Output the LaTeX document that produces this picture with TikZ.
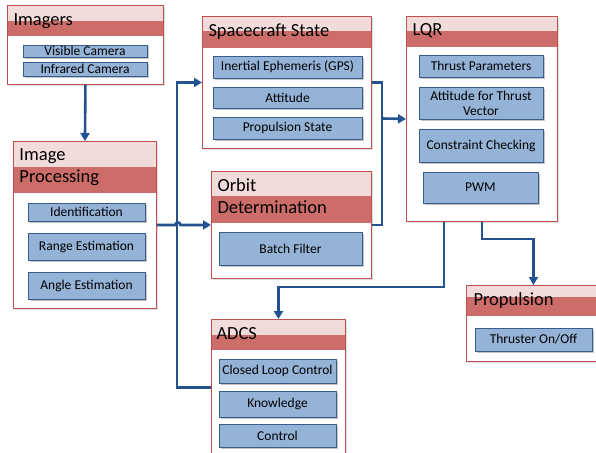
\documentclass[tikz,border=0pt]{standalone}
\usepackage{fontspec}
\setmainfont{Carlito}
\usetikzlibrary{arrows.meta,shadows}
\definecolor{headlight}{HTML}{F2DCDB}
\definecolor{headdark}{HTML}{CD6D69}
\definecolor{modborder}{HTML}{C0504D}
\definecolor{itemfill}{HTML}{95B3D7}
\definecolor{itemborder}{HTML}{385D8A}
\definecolor{flowblue}{HTML}{24528F}

\begin{document}
\begin{tikzpicture}[
                x=1pt,y=-1pt,
                line width=1pt,
                module/.style 2 args={draw=modborder,line width=0.9pt,fill=white,inner sep=0pt,anchor=north west,
                    drop shadow={shadow xshift=1.2pt,shadow yshift=-1.2pt,opacity=0.25},
                    path picture={
                        \fill[headlight] (path picture bounding box.north west) rectangle ([yshift=-#1pt]path picture bounding box.north east);
                        \fill[headdark] ([yshift=-#1pt]path picture bounding box.north west) rectangle ([yshift=-#2pt]path picture bounding box.north east);
                    }},
                title/.style={font=\fontsize{18.5}{22}\selectfont,anchor=west,inner sep=0pt,align=left,text=black},
                item/.style={draw=itemborder,fill=itemfill,line width=0.9pt,inner sep=0.5pt,align=center,
                    font=\fontsize{13.5}{15}\selectfont,text=black,
                    drop shadow={shadow xshift=1.5pt,shadow yshift=-1.5pt,opacity=0.45}},
                flow/.style={draw=flowblue,line width=2.6pt,-{Triangle[length=8pt,width=9pt]}},
                bus/.style={draw=flowblue,line width=2.6pt}] %

                    \useasboundingbox (0,0) rectangle (596,452);

                    % Imagers
                    \node[module={16}{31},minimum width=156pt,minimum height=79pt] (Imagers) at (7,5) {};
                    \node[title] (ImagersTitle) at (13,21) {Imagers};
                    \node[item,minimum width=124pt,minimum height=12pt] (ItemVisible) at (85,51) {Visible Camera};
                    \node[item,minimum width=124pt,minimum height=14pt] (ItemInfrared) at (85,69) {Infrared Camera};

                    % Spacecraft State
                    \node[module={15}{32},minimum width=169pt,minimum height=132pt] (SpacecraftState) at (202,16) {};
                    \node[title] (SpacecraftTitle) at (208,32) {Spacecraft State};
                    \node[item,minimum width=149pt,minimum height=22pt] (ItemGPS) at (287.5,67) {Inertial Ephemeris (GPS)};
                    \node[item,minimum width=149pt,minimum height=21pt] (ItemAttitude) at (287.5,97.5) {Attitude};
                    \node[item,minimum width=149pt,minimum height=22pt] (ItemPropState) at (287.5,128) {Propulsion State};

                    % LQR
                    \node[module={15}{31},minimum width=151pt,minimum height=205pt] (LQR) at (406,16) {};
                    \node[title] (LQRTitle) at (412,31) {LQR};
                    \node[item,minimum width=124pt,minimum height=22pt] (ItemThrust) at (481,66) {Thrust Parameters};
                    \node[item,minimum width=124pt,minimum height=32pt] (ItemVector) at (481,103) {Attitude for Thrust\\Vector};
                    \node[item,minimum width=124pt,minimum height=33pt] (ItemConstraint) at (481,145.5) {Constraint Checking};
                    \node[item,minimum width=115pt,minimum height=31pt] (ItemPWM) at (480.5,187.5) {PWM};

                    % Image Processing
                    \node[module={26}{52},minimum width=143pt,minimum height=167pt] (ImageProc) at (13,141) {};
                    \node[title] (ImageProcTitle) at (19,167) {Image\\Processing};
                    \node[item,minimum width=117pt,minimum height=18pt] (ItemIdent) at (86.5,212) {Identification};
                    \node[item,minimum width=117pt,minimum height=27pt] (ItemRange) at (86.5,246.5) {Range Estimation};
                    \node[item,minimum width=117pt,minimum height=27pt] (ItemAngle) at (86.5,285.5) {Angle Estimation};

                    % Orbit Determination
                    \node[module={25}{52},minimum width=160pt,minimum height=107pt] (OrbitDet) at (211,171) {};
                    \node[title] (OrbitDetTitle) at (217,196) {Orbit\\Determination};
                    \node[item,minimum width=143pt,minimum height=33pt] (ItemBatch) at (290.5,248.5) {Batch Filter};

                    % ADCS
                    \node[module={16}{31},minimum width=134pt,minimum height=136pt] (ADCS) at (211,319) {};
                    \node[title] (ADCSTitle) at (216,334) {ADCS};
                    \node[item,minimum width=117pt,minimum height=24pt] (ItemLoop) at (277.5,371) {Closed Loop Control};
                    \node[item,minimum width=117pt,minimum height=26pt] (ItemKnow) at (277.5,404) {Knowledge};
                    \node[item,minimum width=117pt,minimum height=23pt] (ItemControl) at (277.5,435.5) {Control};

                    % Propulsion
                    \node[module={12}{31},minimum width=134pt,minimum height=76pt] (Propulsion) at (466,285) {};
                    \node[title] (PropulsionTitle) at (473,301) {Propulsion};
                    \node[item,minimum width=117pt,minimum height=23pt] (ItemThruster) at (533.5,339.5) {Thruster On/Off};


                    % connectors
                    \coordinate (Merge) at (382,118.5);

                    \draw[flow] (Imagers.south) -- (ImageProc.north);
                    \draw[flow] (ADCS.west) -- ++(-34,0) |- (SpacecraftState.west);
                    \draw[flow] (ImageProc.east) -- ++(18.5,0) arc[start angle=180,end angle=0,radius=2.5pt] -- (OrbitDet.west);
                    \draw[bus] (SpacecraftState.east) -| (Merge) |- (OrbitDet.east);
                    \draw[flow] (Merge) -- (LQR.west);
                    \draw[flow] ([xshift=-38pt]LQR.south) -- ++(0,65) -| (ADCS.north);
                    \draw[flow] (LQR.south) -- ++(0,17) -| (Propulsion.north);

                    \end{tikzpicture}
\end{document}
